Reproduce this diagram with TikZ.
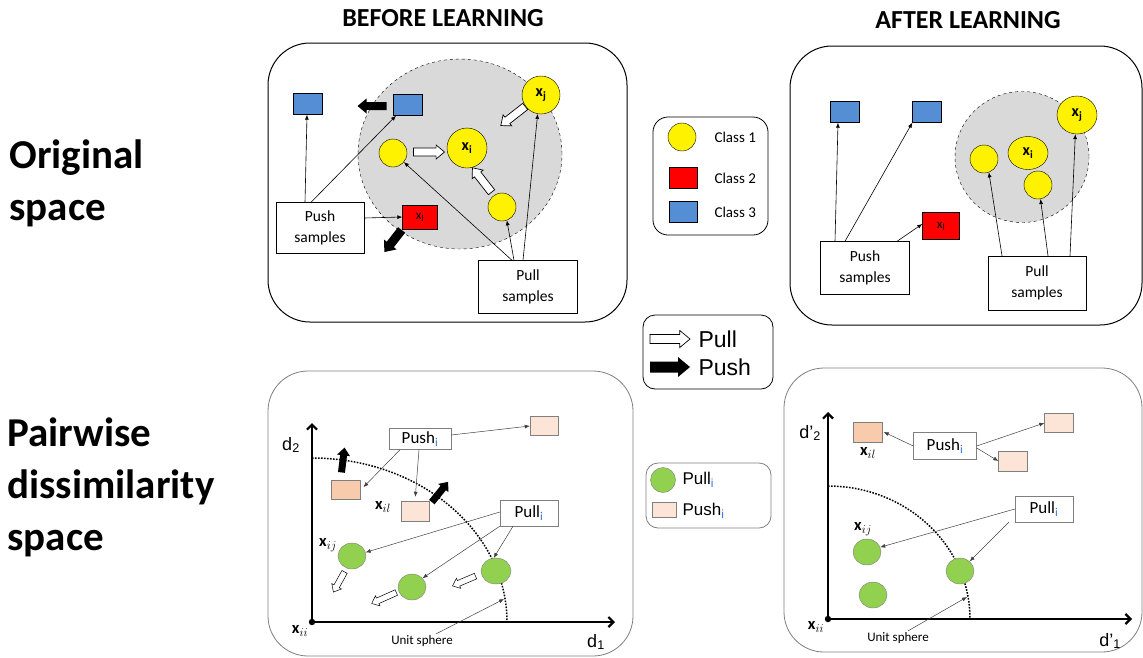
\documentclass[tikz,border=0pt]{standalone}
\usepackage{fontspec}
\setmainfont{Carlito}
\newfontfamily\arialf{Liberation Sans}
\usetikzlibrary{arrows.meta,shapes.geometric}
\definecolor{bluefill}{HTML}{558ED5}
\definecolor{grayfill}{HTML}{D9D9D9}
\definecolor{greenfill}{HTML}{92D050}
\definecolor{peachD}{HTML}{F8CBAD}
\definecolor{peachL}{HTML}{FCE4D6}
\definecolor{subblue}{HTML}{2E75D6}
\definecolor{boxgray}{HTML}{7F7F7F}
\tikzset{
  panel/.style={draw, rounded corners=42, line width=1pt},
  gpanel/.style={draw=boxgray, rounded corners=40, line width=0.8pt},
  ycirc/.style={circle, draw, fill=yellow, inner sep=0, minimum size=#1,
    font=\fontsize{16}{16}\selectfont\bfseries},
  yell/.style={ellipse, draw, fill=yellow, inner sep=0, font=\fontsize{16}{16}\selectfont\bfseries},
  sq/.style={draw, inner sep=0, minimum width=29, minimum height=21},
  txtbox/.style={draw, inner sep=0, align=center, font=\fontsize{15.5}{21}\selectfont},
  ibox/.style={draw=boxgray, fill=white, inner sep=0, font=\fontsize{17}{17}\selectfont},
  gell/.style={ellipse, draw=boxgray, fill=greenfill, inner sep=0, minimum width=28, minimum height=26},
  thin/.style={-{Latex[length=5pt,width=4pt]}, line width=0.6pt},
  gthin/.style={-{Latex[length=5pt,width=4pt]}, line width=0.5pt, draw=black!75},
  axis/.style={-{Straight Barb[length=5pt,width=10pt]}, line width=2.2pt},
  sphere/.style={line width=1.5pt, dash pattern=on 1.6pt off 1.4pt},
  pullst/.style={draw, fill=white, line width=0.7pt, line join=miter},
  pushst/.style={fill=black},
  % block arrow: length, half shaft, half head, style
  pics/blockarr/.style n args={4}{code={
    \path[#4] ({-#1/2},{#2}) -- ({#1/2-1.2*#3},{#2}) -- ({#1/2-1.2*#3},{#3})
      -- ({#1/2},0) -- ({#1/2-1.2*#3},{-#3}) -- ({#1/2-1.2*#3},{-#2})
      -- ({-#1/2},{-#2}) -- cycle;
  }},
  sub/.style={font=\fontsize{16.5}{16.5}\selectfont}
}
\newcommand{\subi}{\textsubscript{\color{subblue}i}}
\begin{document}
\begin{tikzpicture}[x=1pt, y=-1pt]
  \useasboundingbox (0,0) rectangle (1143,657);

  % row and column titles
  \node[font=\fontsize{26}{26}\selectfont\bfseries] (titleB) at (443,18) {BEFORE LEARNING};
  \node[font=\fontsize{26}{26}\selectfont\bfseries] (titleA) at (968,20) {AFTER LEARNING};
  \node[anchor=west, align=left, font=\fontsize{41}{52}\selectfont\bfseries] (rowO) at (6,183) {Original\\space};
  \node[anchor=west, align=left, font=\fontsize{41}{52}\selectfont\bfseries] (rowP) at (4,487) {Pairwise\\dissimilarity\\space};

  % ---------- original space, before ----------
  \draw[panel] (268,43) rectangle (627,322);
  \node[ellipse, draw, dashed, fill=grayfill, minimum width=204, minimum height=190] (tlGray) at (460,154) {};
  \node[sq, fill=bluefill] (tlB1) at (308,104) {};
  \node[sq, fill=bluefill] (tlB2) at (408,105) {};
  \node[ycirc=38] (tlXj) at (541,95) {x\textsubscript{j}};
  \node[ycirc=40] (tlXi) at (467,148) {x\textsubscript{i}};
  \node[ycirc=28] (tlY1) at (393,153) {};
  \node[ycirc=28] (tlY2) at (502,207) {};
  \node[sq, fill=red, minimum width=35, minimum height=24, font=\fontsize{13}{13}\selectfont] (tlXl) at (420,217) {x\textsubscript{l}};
  \node[txtbox, fill=white, minimum width=88, minimum height=51] (tlPush) at (320,228) {Push\\samples};
  \node[txtbox, fill=white, minimum width=99, minimum height=53] (tlPull) at (528,287) {Pull\\samples};

  \draw[thin] ([xshift=-15]tlPush.north) -- ([xshift=-1]tlB1.south);
  \draw[thin] ([xshift=-9]tlPush.north) -- ([xshift=-12]tlB2.south);
  \draw[thin] ([yshift=10]tlPush.east) -- (tlXl.west);
  \draw[thin] ([xshift=-16]tlPull.north) -- (tlY1.-40);
  \draw[thin] ([xshift=-14]tlPull.north) -- (tlY2.-70);
  \draw[thin] ([xshift=-5]tlPull.north) -- (tlXj.-100);

  \pic[rotate=180] (tlPa) at (372,106) {blockarr={29}{4}{7.5}{pushst}};
  \pic[rotate=232] (tlPb) at (393,241) {blockarr={28}{4.5}{8}{pushst}};
  \pic (tlLa) at (429,152) {blockarr={31}{4}{7}{pullst}};
  \pic[rotate=128] (tlLb) at (482,180) {blockarr={31}{4}{7}{pullst}};
  \pic[rotate=218] (tlLc) at (513,116) {blockarr={31}{4}{7}{pullst}};

  % ---------- original space, after ----------
  \draw[panel] (790,46) rectangle (1142,325);
  \node[ellipse, draw, dashed, fill=grayfill, minimum width=134, minimum height=131] (trGray) at (1022,157) {};
  \node[sq, fill=bluefill] (trB1) at (845,112) {};
  \node[sq, fill=bluefill] (trB2) at (927,112) {};
  \node[sq, fill=red, minimum width=37, minimum height=27, font=\fontsize{13}{13}\selectfont] (trXl) at (941,226) {x\textsubscript{l}};
  \node[ycirc=28] (trY1) at (984,159) {};
  \node[yell, minimum width=40, minimum height=33] (trXi) at (1028,153) {x\textsubscript{i}};
  \node[ycirc=28] (trY2) at (1038,185) {};
  \node[yell, minimum width=40, minimum height=38] (trXj) at (1077,115) {x\textsubscript{j}};
  \node[txtbox, fill=white, minimum width=89, minimum height=53] (trPush) at (865,268) {Push\\samples};
  \node[txtbox, fill=white, minimum width=98, minimum height=54] (trPull) at (1037,283) {Pull\\samples};

  \draw[thin] ([xshift=-30]trPush.north) -- ([xshift=-7]trB1.south);
  \draw[thin] ([xshift=-20]trPush.north) -- (trB2.south west);
  \draw[thin] ([xshift=32]trPush.north) -- ([yshift=2]trXl.west);
  \draw[thin] ([xshift=-35]trPull.north) -- (trY1.-70);
  \draw[thin] ([xshift=11]trPull.north) -- (trY2.-80);
  \draw[thin] ([xshift=33]trPull.north) -- (trXj.-95);

  % ---------- legends ----------
  \draw[rounded corners=15, line width=0.8pt] (653,117) rectangle (768,235);
  \node[ycirc=28] (lgY) at (682,137) {};
  \node[sq, fill=red, minimum width=28] (lgR) at (683,178) {};
  \node[sq, fill=bluefill, minimum width=28] (lgB) at (683,212) {};
  \node[anchor=west, font=\fontsize{15}{15}\selectfont] (lgT1) at (711,137) {Class 1};
  \node[anchor=west, font=\fontsize{15}{15}\selectfont] (lgT2) at (711,178) {Class 2};
  \node[anchor=west, font=\fontsize{15}{15}\selectfont] (lgT3) at (711,212) {Class 3};

  \draw[rounded corners=12, line width=0.8pt] (643,315) rectangle (773,389);
  \pic (lgPl) at (670,339) {blockarr={40}{4.5}{8.5}{pullst}};
  \pic (lgPs) at (670,367) {blockarr={40}{5.5}{10}{pushst}};
  \node[anchor=west, font=\arialf\fontsize{23}{23}\selectfont] (lgTl) at (695,339) {Pull};
  \node[anchor=west, font=\arialf\fontsize{23}{23}\selectfont] (lgTs) at (695,367) {Push};

  \draw[draw=boxgray, rounded corners=12, line width=0.8pt] (646,463) rectangle (771,528);
  \node[circle, draw=boxgray, fill=greenfill, minimum size=25, inner sep=0] (lgG) at (663,480) {};
  \node[draw=boxgray, fill=peachL, minimum width=24, minimum height=15, inner sep=0] (lgP) at (664,510) {};
  \node[anchor=west, font=\arialf\fontsize{17}{17}\selectfont] (lgTg) at (679,480) {Pull\subi};
  \node[anchor=west, font=\arialf\fontsize{17}{17}\selectfont] (lgTp) at (679,511) {Push\subi};

  % ---------- dissimilarity space, before ----------
  \draw[gpanel] (268,371) rectangle (633,656);
  \coordinate (blO) at (312,622);
  \draw[sphere] (312,458) arc[start angle=-90, end angle=0, x radius=195, y radius=164];
  \draw[axis] (blO) -- (312,423);
  \draw[axis] (blO) -- (615,622);
  \fill (blO) circle (3.2);
  \node[font=\arialf\fontsize{18}{18}\selectfont] (blD2) at (291,445) {d\textsubscript{2}};
  \node[font=\arialf\fontsize{18}{18}\selectfont] (blD1) at (596,642) {d\textsubscript{1}};
  \node[sub] (blXii) at (300,631) {$\mathbf{x}_{ii}$};
  \node[font=\fontsize{13}{13}\selectfont] (blUS) at (422,641) {Unit sphere};
  \coordinate (blUSend) at (504,599);
  \draw[gthin] ([xshift=14,yshift=-2]blUS.north) -- (blUSend);

  \node[ibox, minimum width=62, minimum height=21] (blPush) at (420,439) {Push\subi};
  \node[draw=boxgray, fill=peachL, minimum width=28, minimum height=19, inner sep=0] (blP1) at (544,426) {};
  \node[draw=boxgray, fill=peachD, minimum width=29, minimum height=19, inner sep=0] (blP2) at (346,490) {};
  \node[draw=boxgray, fill=peachL, minimum width=28, minimum height=20, inner sep=0] (blP3) at (415,511) {};
  \node[sub] (blXil) at (383,507) {$\mathbf{x}_{il}$};
  \node[ibox, minimum width=58, minimum height=26] (blPull) at (529,513) {Pull\subi};
  \node[gell] (blG1) at (352,556) {};
  \node[sub] (blXij) at (328,545) {$\mathbf{x}_{ij}$};
  \node[gell] (blG2) at (412,587) {};
  \node[gell, minimum width=30] (blG3) at (496,571) {};

  \draw[gthin] ([yshift=4]blPush.east) -- (blP1.west);
  \draw[gthin, shorten >=4] ([xshift=-20]blPush.south) -- (blP2.east);
  \draw[gthin, shorten >=4] ([xshift=-1]blPush.south) -- (blP3.north);
  \draw[gthin] ([yshift=1]blPull.west) -- (blG1.15);
  \draw[gthin] (blPull.south west) -- (blG2.40);
  \draw[gthin] ([xshift=-16]blPull.south) -- (blG3.100);

  \pic[rotate=83] (blPa) at (343,460) {blockarr={25}{3.5}{6.5}{pushst}};
  \pic[rotate=51] (blPb) at (440,492) {blockarr={26}{3.5}{6.5}{pushst}};
  \pic[rotate=241] (blLa) at (339,582) {blockarr={23}{3}{5.5}{pullst, line width=0.5pt}};
  \pic[rotate=204] (blLb) at (384,598) {blockarr={27}{3}{5.5}{pullst, line width=0.5pt}};
  \pic[rotate=203] (blLc) at (464,581) {blockarr={25}{3}{5.5}{pullst, line width=0.5pt}};

  % ---------- dissimilarity space, after ----------
  \draw[gpanel] (784,368) rectangle (1142,652);
  \coordinate (brO) at (828,619);
  \draw[sphere] (828,486) arc[start angle=-90, end angle=0, x radius=142, y radius=133];
  \draw[axis] (brO) -- (828,412);
  \draw[axis] (brO) -- (1132,619);
  \fill (brO) circle (3.2);
  \node[font=\arialf\fontsize{18}{18}\selectfont] (brD2) at (810,433) {d’\textsubscript{2}};
  \node[font=\arialf\fontsize{18}{18}\selectfont] (brD1) at (1110,641) {d’\textsubscript{1}};
  \node[sub] (brXii) at (816,627) {$\mathbf{x}_{ii}$};
  \node[font=\fontsize{13}{13}\selectfont] (brUS) at (898,638) {Unit sphere};
  \coordinate (brUSend) at (967,597);
  \draw[gthin] ([xshift=10,yshift=-2]brUS.north) -- (brUSend);

  \node[draw=boxgray, fill=peachD, minimum width=29, minimum height=20, inner sep=0] (brP1) at (868,432) {};
  \node[sub] (brXil) at (868,453) {$\mathbf{x}_{il}$};
  \node[ibox, minimum width=63, minimum height=27] (brPush) at (945,446) {Push\subi};
  \node[draw=boxgray, fill=peachL, minimum width=29, minimum height=19, inner sep=0] (brP2) at (1059,423) {};
  \node[draw=boxgray, fill=peachL, minimum width=29, minimum height=20, inner sep=0] (brP3) at (1013,461) {};
  \node[ibox, minimum width=58, minimum height=26] (brPull) at (1044,509) {Pull\subi};
  \node[gell] (brG1) at (867,552) {};
  \node[sub] (brXij) at (863,529) {$\mathbf{x}_{ij}$};
  \node[gell] (brG2) at (873,595) {};
  \node[gell] (brG3) at (960,571) {};

  \draw[gthin] (brPush.west) -- ([xshift=1]brP1.east);
  \draw[gthin] (brPush.east) -- (brP2.west);
  \draw[gthin] ([yshift=-2]brPush.east) -- (brP3.west);
  \draw[gthin] (brPull.west) -- (brG1.20);
  \draw[gthin] ([xshift=-6]brPull.south west) -- (brG3.45);
\end{tikzpicture}
\end{document}
